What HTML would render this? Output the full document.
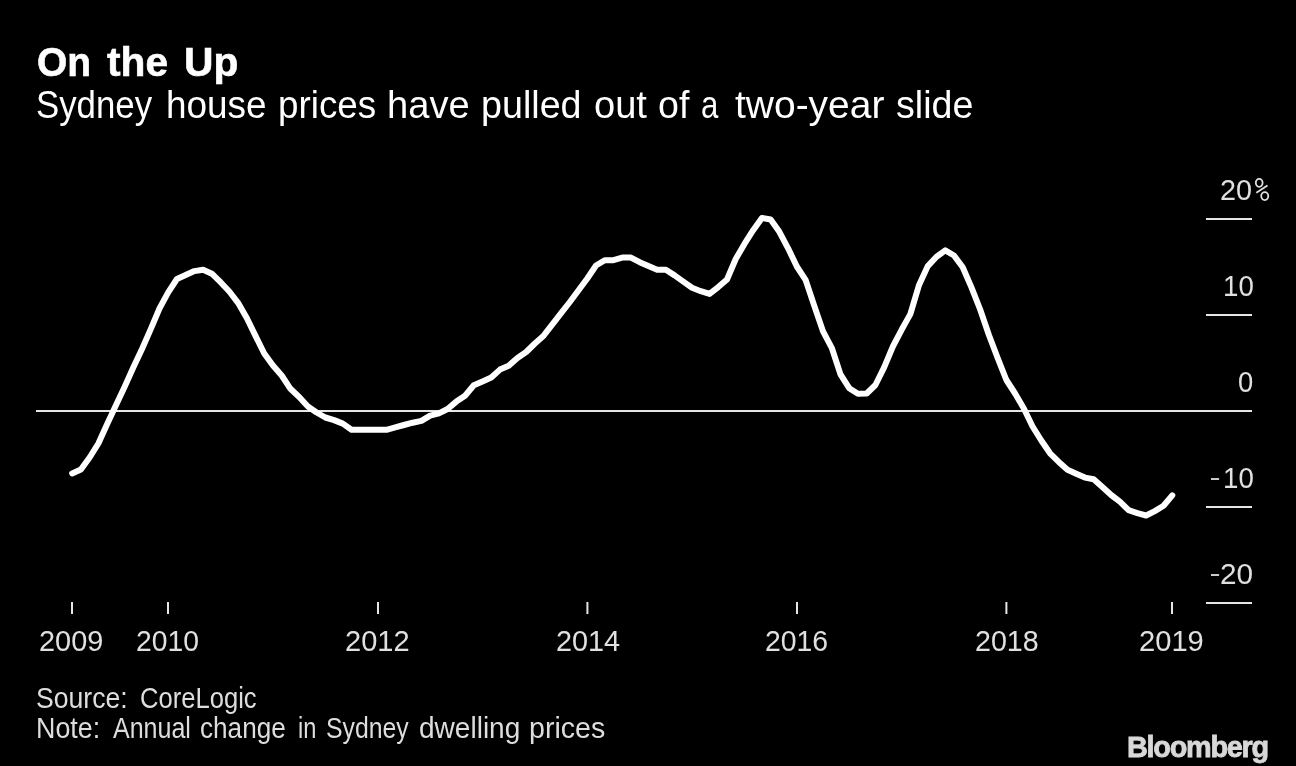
<!DOCTYPE html>
<html><head><meta charset="utf-8">
<style>
html,body{margin:0;padding:0;background:#000;}
body{width:1296px;height:766px;position:relative;overflow:hidden;font-family:"Liberation Sans",sans-serif;}
.w{position:absolute;white-space:nowrap;line-height:1;transform-origin:0 0;}
#txt{position:absolute;left:0;top:0;width:1296px;height:766px;filter:grayscale(1);}
svg{position:absolute;left:0;top:0;}
</style></head><body>
<svg width="1296" height="766" viewBox="0 0 1296 766">
<g stroke="#e6e6e6" stroke-width="2">
<line x1="1206" y1="219" x2="1252" y2="219"/>
<line x1="1206" y1="315" x2="1252" y2="315"/>
<line x1="1206" y1="507" x2="1252" y2="507"/>
<line x1="1206" y1="603" x2="1252" y2="603"/>
<line x1="36" y1="411" x2="1252" y2="411"/>
<line x1="72" y1="602" x2="72" y2="614"/>
<line x1="168" y1="602" x2="168" y2="614"/>
<line x1="378" y1="602" x2="378" y2="614"/>
<line x1="587.4" y1="602" x2="587.4" y2="614"/>
<line x1="797" y1="602" x2="797" y2="614"/>
<line x1="1006.4" y1="602" x2="1006.4" y2="614"/>
<line x1="1172" y1="602" x2="1172" y2="614"/>
</g>
<g fill="none" stroke="#e0e0e0" stroke-width="1.8">
<ellipse cx="1259.2" cy="182.8" rx="3.4" ry="4.0"/>
<ellipse cx="1264.75" cy="196.1" rx="3.55" ry="4.0"/>
<line x1="1256.3" y1="192.8" x2="1267.5" y2="185.6"/>
</g>
<rect x="1211" y="478.1" width="8.1" height="1.8" fill="#e0e0e0"/>
<rect x="1211" y="574.1" width="8.1" height="1.8" fill="#e0e0e0"/>
<polyline fill="none" stroke="#fff" stroke-width="6" stroke-linejoin="round" stroke-linecap="round" points="72.16,473.4 80.89,469.5 89.62,457.5 98.35,443.5 107.08,424.2 115.81,405.5 124.55,387.0 133.28,367.5 142.01,349.0 150.74,329.1 159.47,308.5 168.20,292.4 176.93,279.0 185.66,275.0 194.39,271.1 203.12,269.7 211.86,273.7 220.59,282.2 229.32,291.5 238.05,302.8 246.78,318.0 255.51,335.9 264.24,353.5 272.97,365.5 281.70,375.5 290.44,388.8 299.17,397.0 307.90,406.5 316.63,412.5 325.36,417.5 334.09,420.1 342.82,423.6 351.55,429.8 360.28,429.8 369.01,429.8 377.75,429.8 386.48,429.8 395.21,427.4 403.94,425.0 412.67,422.7 421.40,420.9 430.13,415.7 438.86,413.4 447.59,409.0 456.32,401.6 465.05,395.7 473.79,385.3 482.52,381.4 491.25,377.5 499.98,369.6 508.71,365.7 517.44,357.9 526.17,352.0 534.90,343.5 543.63,335.7 552.37,324.4 561.10,313.1 569.83,302.0 578.56,290.3 587.29,278.5 596.02,265.5 604.75,260.2 613.48,260.2 622.21,257.6 630.94,257.6 639.67,262.2 648.41,266.1 657.14,269.8 665.87,269.8 674.60,275.4 683.33,281.6 692.06,287.8 700.79,291.2 709.52,293.9 718.25,287.1 726.99,279.5 735.72,259.0 744.45,243.9 753.18,230.2 761.91,217.9 770.64,219.5 779.37,231.8 788.10,248.3 796.83,266.5 805.56,279.8 814.29,305.9 823.03,331.4 831.76,347.8 840.49,374.4 849.22,388.2 857.95,393.7 866.68,393.5 875.41,385.0 884.14,367.4 892.87,346.5 901.60,329.8 910.34,314.1 919.07,284.9 927.80,266.1 936.53,256.7 945.26,250.4 953.99,255.5 962.72,267.3 971.45,287.4 980.18,309.5 988.91,335.0 997.65,358.0 1006.38,380.0 1015.11,393.5 1023.84,408.5 1032.57,426.5 1041.30,440.5 1050.03,453.3 1058.76,461.9 1067.49,469.7 1076.22,473.7 1084.96,477.6 1093.69,479.2 1102.42,487.0 1111.15,495.0 1119.88,501.7 1128.61,510.2 1137.34,513.2 1146.07,515.5 1154.80,511.1 1163.54,505.8 1172.27,495.4"/>
</svg>
<div id="txt">
<div class="w" style="left:36.64px;top:41.75px;font-size:40.5px;font-weight:bold;-webkit-text-stroke:0.6px #fff;color:#fff;transform:scaleX(0.9623);">On</div>
<div class="w" style="left:107.20px;top:41.75px;font-size:40.5px;font-weight:bold;-webkit-text-stroke:0.6px #fff;color:#fff;transform:scaleX(1.0050);">the</div>
<div class="w" style="left:184.19px;top:41.75px;font-size:40.5px;font-weight:bold;-webkit-text-stroke:0.6px #fff;color:#fff;transform:scaleX(1.0059);">Up</div>
<div class="w" style="left:35.59px;top:86.00px;font-size:38.5px;color:#fff;transform:scaleX(0.9039);">Sydney</div>
<div class="w" style="left:165.52px;top:86.00px;font-size:38.5px;color:#fff;transform:scaleX(0.9590);">house</div>
<div class="w" style="left:277.79px;top:86.00px;font-size:38.5px;color:#fff;transform:scaleX(0.9560);">prices</div>
<div class="w" style="left:387.43px;top:86.00px;font-size:38.5px;color:#fff;transform:scaleX(0.9899);">have</div>
<div class="w" style="left:481.44px;top:86.00px;font-size:38.5px;color:#fff;transform:scaleX(0.9786);">pulled</div>
<div class="w" style="left:594.01px;top:86.00px;font-size:38.5px;color:#fff;transform:scaleX(0.9885);">out</div>
<div class="w" style="left:657.73px;top:86.00px;font-size:38.5px;color:#fff;transform:scaleX(0.9750);">of</div>
<div class="w" style="left:700.88px;top:86.00px;font-size:38.5px;color:#fff;transform:scaleX(0.8100);">a</div>
<div class="w" style="left:735.20px;top:86.00px;font-size:38.5px;color:#fff;transform:scaleX(1.0122);">two-year</div>
<div class="w" style="left:895.82px;top:86.00px;font-size:38.5px;color:#fff;transform:scaleX(0.9766);">slide</div>
<div class="w" style="left:36.08px;top:683.90px;font-size:29px;color:#ddd;transform:scaleX(0.9175);">Source:</div>
<div class="w" style="left:139.82px;top:683.90px;font-size:29px;color:#ddd;transform:scaleX(0.8824);">CoreLogic</div>
<div class="w" style="left:36.25px;top:714.20px;font-size:29px;color:#ddd;transform:scaleX(0.9262);">Note:</div>
<div class="w" style="left:112.90px;top:714.20px;font-size:29px;color:#ddd;transform:scaleX(0.8629);">Annual</div>
<div class="w" style="left:199.90px;top:714.20px;font-size:29px;color:#ddd;transform:scaleX(0.9011);">change</div>
<div class="w" style="left:298.07px;top:714.20px;font-size:29px;color:#ddd;transform:scaleX(0.8158);">in</div>
<div class="w" style="left:326.14px;top:714.20px;font-size:29px;color:#ddd;transform:scaleX(0.8552);">Sydney</div>
<div class="w" style="left:419.03px;top:714.20px;font-size:29px;color:#ddd;transform:scaleX(0.9667);">dwelling</div>
<div class="w" style="left:528.63px;top:714.20px;font-size:29px;color:#ddd;transform:scaleX(0.9865);">prices</div>
<div class="w" style="left:39.05px;top:625.10px;font-size:30.4px;color:#e0e0e0;transform:scaleX(0.9508);">2009</div>
<div class="w" style="left:136.47px;top:625.10px;font-size:30.4px;color:#e0e0e0;transform:scaleX(0.9295);">2010</div>
<div class="w" style="left:345.44px;top:625.10px;font-size:30.4px;color:#e0e0e0;transform:scaleX(0.9554);">2012</div>
<div class="w" style="left:555.55px;top:625.10px;font-size:30.4px;color:#e0e0e0;transform:scaleX(0.9485);">2014</div>
<div class="w" style="left:765.07px;top:625.10px;font-size:30.4px;color:#e0e0e0;transform:scaleX(0.9333);">2016</div>
<div class="w" style="left:974.66px;top:625.10px;font-size:30.4px;color:#e0e0e0;transform:scaleX(0.9424);">2018</div>
<div class="w" style="left:1138.74px;top:625.10px;font-size:30.4px;color:#e0e0e0;transform:scaleX(0.9585);">2019</div>
<div class="w" style="left:1220.25px;top:174.20px;font-size:30.4px;color:#e0e0e0;transform:scaleX(0.9469);">20</div>
<div class="w" style="left:1222.68px;top:270.00px;font-size:30.4px;color:#e0e0e0;transform:scaleX(0.9097);">10</div>
<div class="w" style="left:1238.20px;top:366.00px;font-size:30.4px;color:#e0e0e0;transform:scaleX(0.9000);">0</div>
<div class="w" style="left:1222.68px;top:461.80px;font-size:30.4px;color:#e0e0e0;transform:scaleX(0.9097);">10</div>
<div class="w" style="left:1220.22px;top:557.80px;font-size:30.4px;color:#e0e0e0;transform:scaleX(0.9781);">20</div>
<div class="w" style="left:1127.02px;top:732.30px;font-size:29.5px;font-weight:bold;letter-spacing:-1.3px;-webkit-text-stroke:0.8px #d8d8d8;color:#d8d8d8;transform:scaleX(0.9783);">Bloomberg</div>
</div>
</body></html>
